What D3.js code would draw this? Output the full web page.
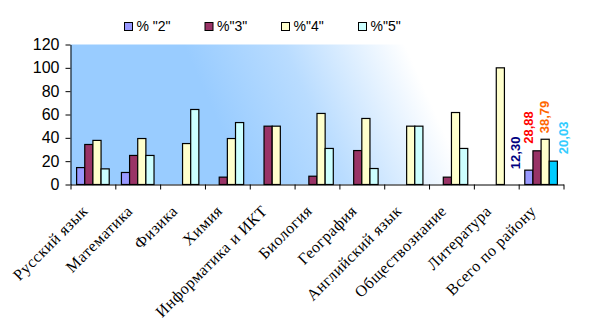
<!DOCTYPE html>
<html>
<head>
<meta charset="utf-8">
<script src="https://cdn.jsdelivr.net/npm/d3@7"></script>
<style>
  body { margin: 0; background: #fff; }
  svg { display: block; }
</style>
</head>
<body>
<div id="chart"></div>
<script>
// data
let subjects = ["Русский язык", "Математика", "Физика", "Химия", "Информатика и ИКТ",
    "Биология", "География", "Английский язык", "Обществознание", "Литература", "Всего по району"];
let seriesNames = ['% "2"', '%"3"', '%"4"', '%"5"'];
let pct2 = [14.5, 10.3, 0, 0, 0, 0, 0, 0, 0, 0, 12.30];
let pct3 = [34.3, 24.9, 0, 6.3, 50, 7.1, 29.1, 0, 6.3, 0, 28.88];
let pct4 = [37.8, 39.4, 35.1, 39.4, 50, 60.9, 56.6, 50, 61.7, 100, 38.79];
let pct5 = [13.4, 24.9, 64.3, 53.1, 0, 30.9, 13.7, 50, 30.9, 0, 20.03];
let yTicks = [0, 20, 40, 60, 80, 100, 120];
let totalLabels = ["12,30", "28,88", "38,79", "20,03"];

let series = [pct2, pct3, pct4, pct5];
let colors = ["#9999ff", "#993366", "#ffffcc", "#ccffff"];
let lastCyan = "#00ccff";
let labelColors = ["#000080", "#ff0000", "#ff6600", "#33ccff"];
// manual nudges of the "total" labels (dx, gap above bar)
let labelNudge = [[-14, 1], [-9, 7], [-1, 6], [10, 7]];

let chartW = 616, chartH = 326;
let plotL = 70.5, plotR = 563.5, plotT = 44.5, plotB = 184.5;

let svg = d3.select("#chart").append("svg")
    .attr("width", chartW)
    .attr("height", chartH);

let x = d3.scaleBand()
    .domain(subjects)
    .range([plotL, plotR])
    .paddingInner(0)
    .paddingOuter(0);

let xs = d3.scaleBand()
    .domain(d3.range(4))
    .range([0, x.bandwidth()])
    .paddingInner(0)
    .paddingOuter(0.75);

let y = d3.scaleLinear()
    .domain([0, 120])
    .range([plotB, plotT]);

// plot background gradient
let defs = svg.append("defs");
let n = [0.912, -0.41];
let grad = defs.append("linearGradient")
    .attr("id", "bg")
    .attr("gradientUnits", "userSpaceOnUse")
    .attr("x1", plotL + 103 * n[0]).attr("y1", plotT + 103 * n[1])
    .attr("x2", plotL + 305 * n[0]).attr("y2", plotT + 305 * n[1]);
grad.append("stop").attr("offset", 0).attr("stop-color", "#99ccff");
grad.append("stop").attr("offset", 0.45).attr("stop-color", "#b9dcff");
grad.append("stop").attr("offset", 1).attr("stop-color", "#ffffff");

svg.append("rect")
    .attr("x", plotL).attr("y", plotT)
    .attr("width", plotR - plotL).attr("height", plotB - plotT)
    .attr("fill", "url(#bg)");

// bars
let barData = [];
subjects.forEach(function (s, i) {
    series.forEach(function (arr, k) {
        if (arr[i] > 0) barData.push({subject: s, i: i, k: k, v: arr[i]});
    });
});

svg.selectAll(".bar")
    .data(barData)
    .enter().append("rect")
    .attr("class", "bar")
    .attr("x", d => x(d.subject) + xs(d.k))
    .attr("y", d => y(d.v))
    .attr("width", xs.bandwidth())
    .attr("height", d => plotB - y(d.v))
    .attr("fill", d => (d.i === subjects.length - 1 && d.k === 3) ? lastCyan : colors[d.k])
    .attr("stroke", "#000")
    .attr("stroke-width", 1.2);

// total labels
let last = subjects[subjects.length - 1];
svg.selectAll(".total")
    .data(totalLabels)
    .enter().append("text")
    .attr("class", "total")
    .attr("transform", function (d, k) {
        let cx = x(last) + xs(k) + xs.bandwidth() / 2 + labelNudge[k][0] + 4.7;
        let cy = y(series[k][subjects.length - 1]) - labelNudge[k][1];
        return "translate(" + cx + "," + cy + ") rotate(-90)";
    })
    .attr("text-anchor", "start")
    .style("font-family", "'Liberation Sans', Arial, sans-serif")
    .style("font-size", "13px")
    .style("font-weight", "bold")
    .style("fill", (d, k) => labelColors[k])
    .text(d => d);

// y axis
let yAxis = svg.append("g")
    .attr("transform", "translate(" + plotL + ",0)")
    .call(d3.axisLeft(y).tickValues(yTicks).tickSize(5).tickSizeOuter(0).tickPadding(6));
yAxis.select(".domain").attr("stroke", "#000");
yAxis.selectAll("text")
    .style("font-family", "'Liberation Sans', Arial, sans-serif")
    .style("font-size", "16px")
    .attr("fill", "#000");

// x axis (ticks at category boundaries)
let xi = d3.scaleLinear().domain([0, subjects.length]).range([plotL, plotR]);
let xAxis = svg.append("g")
    .attr("transform", "translate(0," + plotB + ")")
    .call(d3.axisBottom(xi).tickValues(d3.range(subjects.length + 1)).tickFormat("").tickSize(5).tickSizeOuter(0));
xAxis.select(".domain").attr("stroke", "#000");

svg.selectAll(".xlabel")
    .data(subjects)
    .enter().append("text")
    .attr("class", "xlabel")
    .attr("transform", d => "translate(" + (x(d) + x.bandwidth() / 2 - 4) + "," + 212 + ") rotate(-45)")
    .attr("text-anchor", "end")
    .style("font-family", "'Liberation Serif', 'Times New Roman', serif")
    .style("font-size", "16px")
    .style("letter-spacing", "0.5px")
    .style("fill", "#000")
    .text(d => d);

// legend
let legendX = [124.5, 205, 281.5, 358.5];
let legend = svg.selectAll(".legend")
    .data(seriesNames)
    .enter().append("g")
    .attr("class", "legend")
    .attr("transform", (d, k) => "translate(" + legendX[k] + ",22.5)");

legend.append("rect")
    .attr("width", 8).attr("height", 8)
    .attr("fill", (d, k) => colors[k])
    .attr("stroke", "#000");

legend.append("text")
    .attr("x", 12)
    .attr("y", 8.5)
    .style("font-family", "'Liberation Sans', Arial, sans-serif")
    .style("font-size", "14px")
    .style("fill", "#000")
    .text(d => d);
</script>
</body>
</html>
